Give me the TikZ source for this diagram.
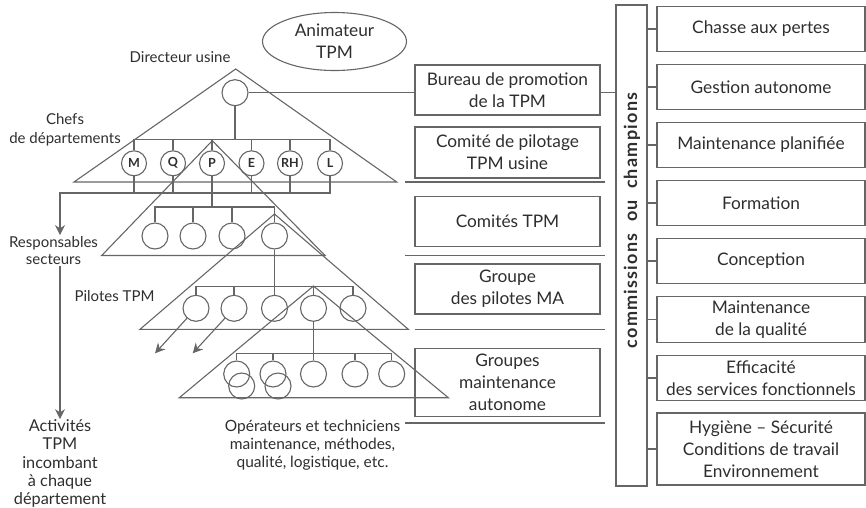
\documentclass[tikz,border=0pt]{standalone}
\usepackage{fontspec}
\setmainfont{Lato}
\usetikzlibrary{arrows.meta, shapes.geometric}
\definecolor{inkgray}{HTML}{2E2E2E}
\definecolor{rulegray}{HTML}{666666}
\newcommand{\cellfont}{\fontsize{17.3}{22}\selectfont}
\newcommand{\tagfont}{\fontsize{15}{18.8}\selectfont}
\tikzset{
  member/.style={circle,draw=rulegray,line width=1.1pt,minimum size=26pt,inner sep=0pt},
  chief/.style={member,minimum size=25pt,text=inkgray,font=\fontsize{12.5}{13}\selectfont\bfseries},
  box/.style={rectangle,draw=rulegray,line width=1.1pt,align=center,inner sep=0pt,text=inkgray,font=\cellfont},
  tag/.style={align=center,inner sep=0pt,text=inkgray,font=\tagfont},
  line/.style={draw=rulegray,line width=1.1pt},
  arrow/.style={line,-{Stealth[length=10pt,width=10pt]}}
}

\begin{document}
\begin{tikzpicture}[x=1pt,y=-1pt]
\useasboundingbox (0,0) rectangle (866,507);
% pyramids
\draw[line] (235.7,69) -- (74,182) -- (396.7,182) -- cycle;
\draw[line] (212.3,140.7) -- (101.7,255.5) -- (325,255.5) -- cycle;
\draw[line] (274.5,214) -- (140,329.3) -- (408.3,329.3) -- cycle;
\draw[line] (313.5,286) -- (179.3,397.7) -- (448.3,397.7) -- cycle;
\draw[line] (405,182) -- (605,182);
\draw[line] (405,255.5) -- (605,255.5);
\draw[line] (415,329.3) -- (605,329.3);
\draw[line] (405,423) -- (605,423);

\node[ellipse,draw=rulegray,line width=1.1pt,minimum width=144pt,minimum height=58pt,inner sep=0pt,
  align=center,text=inkgray,font=\cellfont] (anim) at (334.5,41.5) {Animateur\\TPM};
\node[tag] (direct) at (180,57) {Directeur usine};
\node[tag] (chefs) at (65,130) {Chefs\\de départements};
\node[tag,inner sep=1pt,font=\fontsize{15}{17.3}\selectfont] (resp) at (53.5,250.5) {Responsables\\secteurs};
\node[tag] (pilot) at (114.5,296) {Pilotes TPM};
\node[tag,font=\fontsize{16.3}{18.4}\selectfont] (act) at (60,463.5) {Activités\\TPM\\incombant\\à chaque\\département};
\node[tag,font=\fontsize{15.5}{18.3}\selectfont] (oper) at (312.5,445) {Opérateurs et techniciens\\maintenance, méthodes,\\qualité, logistique, etc.};

% circles
\node[member] (dir) at (235,92.7) {};
\node[chief] (dm) at (134,163.3) {M};
\node[chief] (dq) at (173,163.3) {Q};
\node[chief] (dp) at (212,163.3) {P};
\node[chief] (de) at (251.5,163.3) {E};
\node[chief] (drh) at (290,163.3) {RH};
\node[chief] (dl) at (330,163.3) {L};
\node[member] (cta) at (155,236) {};
\node[member] (ctb) at (193,236) {};
\node[member] (ctc) at (232,236) {};
\node[member] (ctd) at (274.5,236) {};
\node[member] (pa) at (196,308.3) {};
\node[member] (pb) at (234,308.3) {};
\node[member] (pc) at (274.5,308.3) {};
\node[member] (pd) at (313.5,308.3) {};
\node[member] (pe) at (353,308.3) {};
\node[member] (ga) at (236.7,374) {};
\node[member] (gaa) at (241.7,386) {};
\node[member] (gb) at (273,374) {};
\node[member] (gbb) at (278,386) {};
\node[member] (gc) at (313.5,374) {};
\node[member] (gd) at (355,374) {};
\node[member] (ge) at (391.7,374) {};

% middle column
\node[box,minimum width=185pt,minimum height=50pt] (bureau) at (507.5,90) {Bureau de promotion\\de la TPM};
\node[box,minimum width=185pt,minimum height=51pt] (pilotage) at (507.5,152.5) {Comité de pilotage\\TPM usine};
\node[box,minimum width=185pt,minimum height=50.5pt] (comites) at (507.5,221.3) {Comités TPM};
\node[box,minimum width=185pt,minimum height=50pt] (groupe) at (507.5,289) {Groupe\\des pilotes MA};
\node[box,minimum width=185pt,minimum height=68.5pt] (groupes) at (507.5,382.3) {Groupes\\maintenance\\autonome};

% commissions
\node[box,minimum width=31pt,minimum height=481pt] (champ) at (631.5,245.5) {};
\node[rotate=90,text=inkgray,font=\fontsize{18}{20}\selectfont\bfseries\addfontfeature{LetterSpace=7}] (champtext) at (632,220.5) {commissions \ ou \ champions};
\node[box,minimum width=208pt,minimum height=45.5pt] (loss) at (761,29) {Chasse aux pertes};
\node[box,minimum width=208pt,minimum height=45.5pt] (gestion) at (761,87) {Gestion autonome};
\node[box,minimum width=208pt,minimum height=45.5pt] (planif) at (761,145) {Maintenance planifiée};
\node[box,minimum width=208pt,minimum height=45.5pt] (formation) at (761,203) {Formation};
\node[box,minimum width=208pt,minimum height=45.5pt] (conception) at (761,261) {Conception};
\node[box,minimum width=208pt,minimum height=45.5pt] (qualite) at (761,319.3) {Maintenance\\de la qualité};
\node[box,minimum width=208pt,minimum height=45.5pt] (efficacite) at (761,378) {Efficacité\\des services fonctionnels};
\node[box,minimum width=208pt,minimum height=72pt] (hygiene) at (761,449) {Hygiène -- Sécurité\\Conditions de travail\\Environnement};

% links
\coordinate (bus1) at (0,139.5);
\coordinate (bus2) at (60,193);
\coordinate (bus3) at (0,207);
\coordinate (bus4) at (0,286.7);
\coordinate (bus5) at (0,353.3);
\coordinate (drop1) at (155,353.3);
\coordinate (drop2) at (192.7,353.3);
\draw[line] (dir.east) -- (dir.east -| bureau.west);
\draw[line] (bureau.east |- dir.east) -- (champ.west |- dir.east);
\draw[line] (dir.south) -- (dir |- bus1);
\draw[line] (dm.north) |- (dl |- bus1) -- (dl.north);
\draw[line] (dq.north) -- (dq |- bus1);
\draw[line] (dp.north) -- (dp |- bus1);
\draw[line] (de.north) -- (de |- bus1);
\draw[line] (drh.north) -- (drh |- bus1);
\draw[arrow] (dl.south) |- (bus2) -- (bus2 |- resp.north);
\draw[arrow] (bus2 |- resp.south) -- (bus2 |- act.north);
\draw[line] (dm.south) -- (dm |- bus2);
\draw[line] (dq.south) -- (dq |- bus2);
\draw[line] (de.south) -- (de |- bus2);
\draw[line] (drh.south) -- (drh |- bus2);
\draw[line] (dp.south) -- (dp |- bus3);
\draw[line] (cta.north) |- (ctd |- bus3) -- (ctd.north);
\draw[line] (ctb.north) -- (ctb |- bus3);
\draw[line] (ctc.north) -- (ctc |- bus3);
\draw[line] (ctd.south) -- (pc.north);
\draw[line] (pa.north) |- (pe |- bus4) -- (pe.north);
\draw[line] (pb.north) -- (pb |- bus4);
\draw[line] (pd.north) -- (pd |- bus4);
\draw[line] (pd.south) -- (gc.north);
\draw[line] (ga.north) |- (ge |- bus5) -- (ge.north);
\draw[line] (gb.north) -- (gb |- bus5);
\draw[line] (gd.north) -- (gd |- bus5);
\draw[arrow] (pa) -- (drop1);
\draw[arrow] (pb) -- (drop2);
\draw[line] (champ.east |- loss.west) -- (loss.west);
\draw[line] (champ.east |- gestion.west) -- (gestion.west);
\draw[line] (champ.east |- planif.west) -- (planif.west);
\draw[line] (champ.east |- formation.west) -- (formation.west);
\draw[line] (champ.east |- conception.west) -- (conception.west);
\draw[line] (champ.east |- qualite.west) -- (qualite.west);
\draw[line] (champ.east |- efficacite.west) -- (efficacite.west);
\draw[line] (champ.east |- hygiene.west) -- (hygiene.west);
\end{tikzpicture}
\end{document}
